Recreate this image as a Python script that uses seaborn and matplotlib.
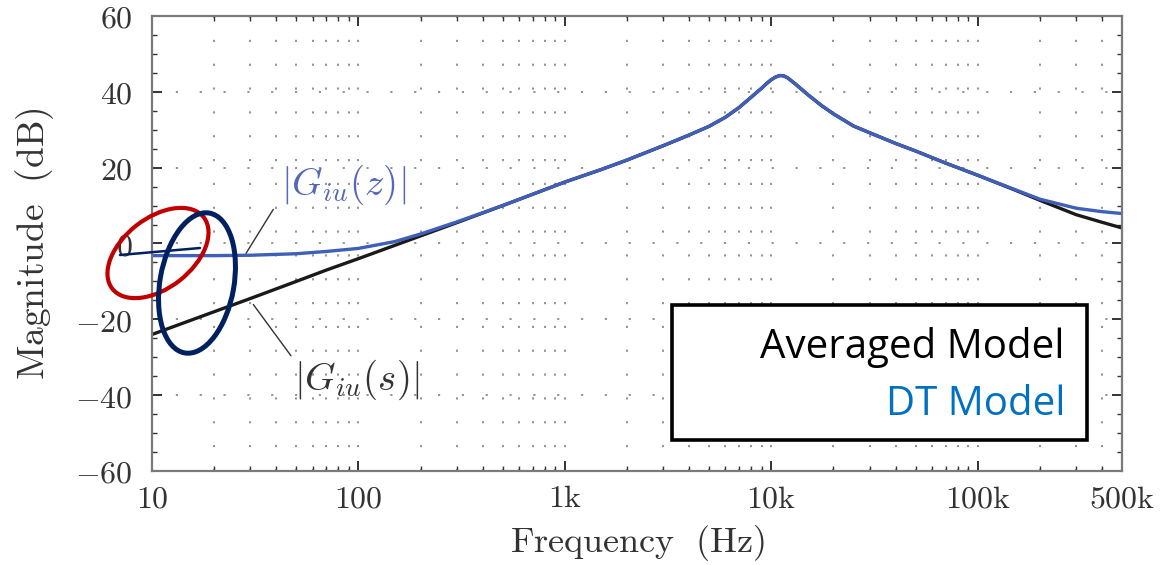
import numpy as np
import pandas as pd
import matplotlib
matplotlib.use("Agg")
import matplotlib.pyplot as plt
import matplotlib.ticker as mticker
from matplotlib.patches import Ellipse, Rectangle
import seaborn as sns

# values
freq = [10, 20, 30, 50, 70, 100, 150, 200, 300, 500, 700, 1000, 1500, 2000,
        3000, 4000, 5000, 6000, 7000, 8000, 9000, 9500, 10000, 10500, 11000,
        11500, 12000, 13000, 14000, 15000, 17500, 20000, 25000, 30000, 40000,
        50000, 70000, 100000, 150000, 200000, 300000, 400000, 500000]
avg_db = [-24.0, -18.0, -14.5, -10.0, -7.0, -4.0, -0.5, 2.0, 5.5, 10.0, 13.0,
          16.2, 19.5, 22.0, 25.8, 28.6, 30.9, 33.3, 35.9, 38.6, 41.0, 42.2,
          43.2, 43.9, 44.3, 44.2, 43.7, 42.2, 40.7, 39.3, 36.4, 34.2, 31.0,
          29.2, 26.4, 24.4, 21.2, 18.0, 14.2, 11.4, 7.6, 5.6, 4.1]
dt_db = [-3.2, -3.2, -3.1, -2.7, -2.1, -1.3, 0.5, 2.5, 5.7, 10.0, 13.0,
         16.2, 19.5, 22.0, 25.8, 28.6, 30.9, 33.3, 35.9, 38.6, 41.0, 42.2,
         43.2, 43.9, 44.3, 44.2, 43.7, 42.2, 40.7, 39.3, 36.4, 34.2, 31.0,
         29.2, 26.4, 24.4, 21.2, 18.0, 14.3, 11.7, 9.3, 8.4, 7.9]

xticks = [10, 100, 1000, 10000, 100000, 500000]
xtick_labels = ["10", "100", "1k", "10k", "100k", "500k"]
yticks = [-60, -40, -20, 0, 20, 40, 60]

df = pd.DataFrame({"Frequency": freq, "Averaged": avg_db, "DT": dt_db})

sns.set_style("ticks")
plt.rcParams["mathtext.fontset"] = "cm"
plt.rcParams["font.family"] = ["DejaVu Sans"]

fig = plt.figure(figsize=(11.71, 5.65), dpi=100)
ax = fig.add_axes([0.1298, 0.1664, 0.8283, 0.8053])

sns.lineplot(data=df, x="Frequency", y="Averaged", color="#1a1a1a", lw=2.4, ax=ax)
sns.lineplot(data=df, x="Frequency", y="DT", color="#3f5fb8", lw=2.4, ax=ax)

ax.set_xscale("log")
ax.set_xlim(10, 500000)
ax.set_ylim(-60, 60)
ax.set_xticks(xticks)
ax.set_xticklabels(["$\\mathrm{" + t + "}$" for t in xtick_labels])
ax.xaxis.set_minor_locator(mticker.LogLocator(base=10, subs=np.arange(2, 10)))
ax.xaxis.set_minor_formatter(mticker.NullFormatter())
ax.set_yticks(yticks)
ax.set_yticklabels(["$" + str(v) + "$" for v in yticks])
ax.yaxis.set_minor_locator(mticker.MultipleLocator(5))

ax.tick_params(which="both", direction="in", top=True, right=True,
               colors="#333333", labelcolor="#333333")
ax.tick_params(which="major", length=7, width=1.4, labelsize=23)
ax.tick_params(axis="x", which="major", pad=9)
ax.tick_params(axis="y", which="major", pad=14)
ax.tick_params(which="minor", length=3.5, width=1.0)

dots = (0, (1.2, 12))
ax.grid(which="both", axis="x", ls=dots, lw=1.3, color="#8a8a8a")
ax.grid(which="major", axis="y", ls=dots, lw=1.3, color="#8a8a8a")
for s in ax.spines.values():
    s.set_color("#7a7a7a")
    s.set_linewidth(1.6)

ax.set_xlabel(r"$\mathrm{Frequency\ \ (Hz)}$", fontsize=26, color="#333333", labelpad=6)
ax.set_ylabel(r"$\mathrm{Magnitude\ \ (dB)}$", fontsize=27, color="#333333", labelpad=14)

# curve labels with leader lines
ax.annotate("", xy=(28.1, -3.2), xytext=(39.3, 9.6),
            arrowprops=dict(arrowstyle="-", color="#333333", lw=1.0))
ax.annotate("", xy=(30.4, -15.5), xytext=(48, -30.2),
            arrowprops=dict(arrowstyle="-", color="#333333", lw=1.0))
ax.text(42, 15.4, r"$|G_{iu}(z)|$", fontsize=28, color="#5468b8", va="center")
ax.text(49, -36, r"$|G_{iu}(s)|$", fontsize=28, color="#333333", va="center")

# legend box (drawn in pixel space, y measured from top)
H = 5.65
px = fig.dpi_scale_trans
fig.add_artist(Rectangle((6.72, H - 4.40), 4.15, 1.35, transform=px,
                         facecolor="white", edgecolor="black", lw=2.6))
fig.text(10.65, H - 3.48, "Averaged Model", transform=px, ha="right", va="center",
         fontsize=29, color="black", family=["Open Sans", "DejaVu Sans"])
fig.text(10.65, H - 4.05, "DT Model", transform=px, ha="right", va="center",
         fontsize=29, color="#0070C0", family=["Open Sans", "DejaVu Sans"])

# hand-drawn highlight marks
fig.add_artist(Ellipse((1.58, H - 2.53), 1.16, 0.70, angle=38, transform=px,
                       fill=False, edgecolor="#c00000", lw=3.0))
fig.add_artist(Ellipse((1.97, H - 2.83), 1.42, 0.74, angle=80, transform=px,
                       fill=False, edgecolor="#002060", lw=3.6))
fig.add_artist(plt.Line2D([1.20, 2.00], [H - 2.55, H - 2.48], transform=px,
                          color="#002060", lw=1.8))

fig.savefig("out.png", dpi=100)
